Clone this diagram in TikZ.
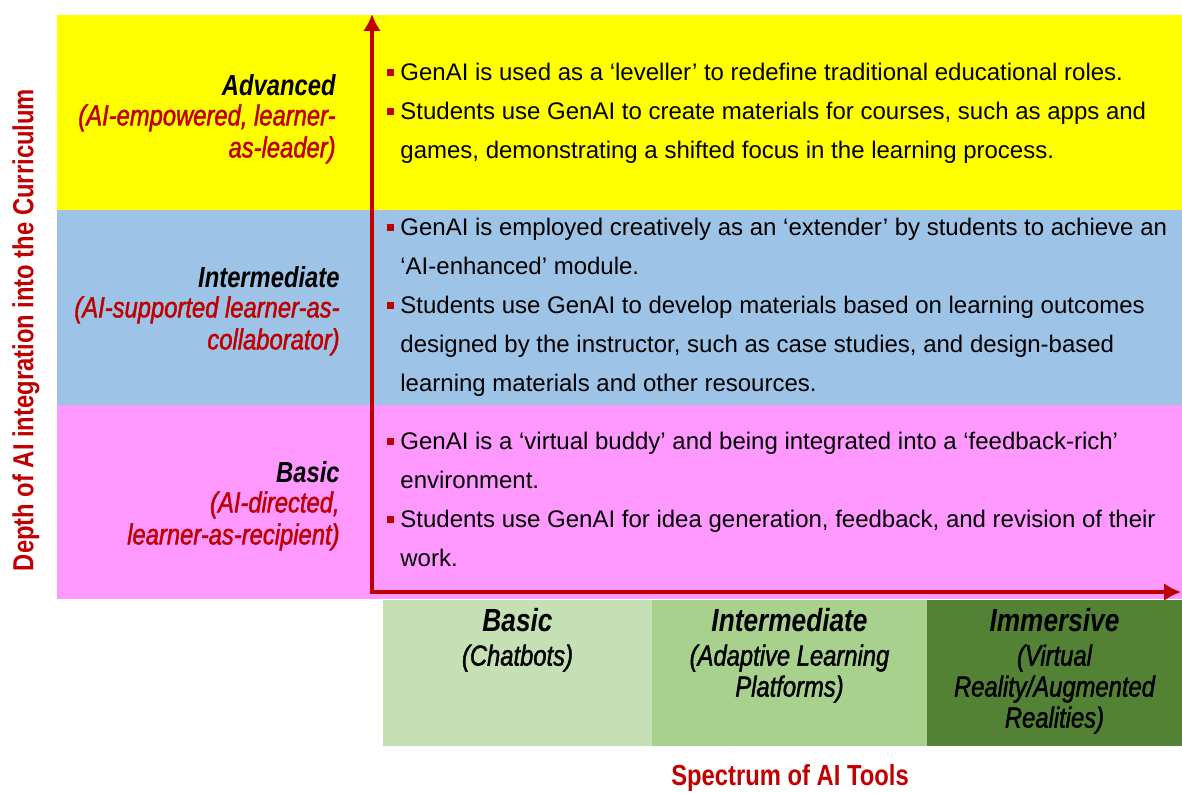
\documentclass[tikz,border=0pt]{standalone}
\usepackage{fontspec}
\setmainfont{Liberation Sans}
\newfontfamily\narrowfont[FakeStretch=0.82]{Liberation Sans}
\newfontfamily\narrowmed[FakeStretch=0.82,FakeBold=1.5]{Liberation Sans}
\usepackage{xcolor}
\usepackage{tikz}
\usetikzlibrary{arrows.meta}

\definecolor{advyellow}{HTML}{FFFF00}
\definecolor{intblue}{HTML}{9DC3E6}
\definecolor{baspink}{HTML}{FF99FF}
\definecolor{axisred}{HTML}{C00000}
\definecolor{toolA}{HTML}{C5E0B4}
\definecolor{toolB}{HTML}{A9D18E}
\definecolor{toolC}{HTML}{548235}

\newcommand{\bul}{\makebox[6.5pt][l]{\textcolor{axisred}{\rule[2.3pt]{3.5pt}{3.5pt}}}}
\newcommand{\ind}{\hspace*{6.5pt}}
\newcommand{\ttl}[1]{{\narrowfont\bfseries\itshape #1}}

\tikzset{
  lvl/.style={anchor=north east, align=right, inner sep=0pt, text=axisred,
    font=\narrowmed\itshape\fontsize{14.5}{16}\selectfont},
  bullets/.style={anchor=north west, align=left, inner sep=0pt,
    font=\fontsize{12}{19.5}\selectfont},
  toolbox/.style={anchor=north west, inner sep=0pt, outer sep=0pt, minimum height=73pt},
  tooltxt/.style={anchor=north, align=center, inner sep=0pt,
    font=\narrowmed\itshape\fontsize{14.5}{15.5}\selectfont},
  axislbl/.style={text=axisred, inner sep=0pt, font=\narrowfont\bfseries\fontsize{14.5}{16}\selectfont},
  axis/.style={draw=axisred, line width=2pt, line join=miter,
    {Latex[length=8.5pt,width=9pt]}-{Latex[length=8.5pt,width=9pt]}}
}

\begin{document}
\begin{tikzpicture}[x=0.5pt,y=-0.5pt]
\useasboundingbox (0,0) rectangle (1182,792);

% levels of integration
\fill[advyellow] (57,15) rectangle (1182,210);
\fill[intblue] (57,210) rectangle (1182,405);
\fill[baspink] (57,405) rectangle (1182,599);

\node[lvl] (advlbl) at (336,74) {\textcolor{black}{\ttl{Advanced}}\\[-1pt]
  (AI-empowered, learner-\\as-leader)};
\node[lvl] (intlbl) at (340,266) {\textcolor{black}{\ttl{Intermediate}}\\[-1pt]
  (AI-supported learner-as-\\collaborator)};
\node[lvl] (baslbl) at (340,461) {\textcolor{black}{\ttl{Basic}}\\[-1pt]
  (AI-directed,\\learner-as-recipient)};

\node[bullets] (advtxt) at (387,63) {\bul GenAI is used as a ‘leveller’ to redefine traditional educational roles.\\
  \bul Students use GenAI to create materials for courses, such as apps and\\
  \ind games, demonstrating a shifted focus in the learning process.};
\node[bullets] (inttxt) at (387,218) {\bul GenAI is employed creatively as an ‘extender’ by students to achieve an\\
  \ind ‘AI-enhanced’ module.\\
  \bul Students use GenAI to develop materials based on learning outcomes\\
  \ind designed by the instructor, such as case studies, and design-based\\
  \ind learning materials and other resources.};
\node[bullets] (bastxt) at (387,432) {\bul GenAI is a ‘virtual buddy’ and being integrated into a ‘feedback-rich’\\
  \ind environment.\\
  \bul Students use GenAI for idea generation, feedback, and revision of their\\
  \ind work.};

% spectrum of tools
\node[toolbox, fill=toolA, minimum width=134.5pt] (basicbox) at (383,600) {};
\node[toolbox, fill=toolB, minimum width=137.5pt] (adaptbox) at (652,600) {};
\node[toolbox, fill=toolC, minimum width=127.5pt] (immbox) at (927,600) {};

\node[tooltxt] (basictxt) at ([yshift=-4pt]basicbox.north) {\ttl{\fontsize{16}{17}\selectfont Basic}\\[1.5pt]
  (Chatbots)};
\node[tooltxt] (adapttxt) at ([yshift=-4pt]adaptbox.north) {\ttl{\fontsize{16}{17}\selectfont Intermediate}\\[1.5pt]
  (Adaptive Learning\\Platforms)};
\node[tooltxt] (immtxt) at ([yshift=-4pt]immbox.north) {\ttl{\fontsize{16}{17}\selectfont Immersive}\\[1.5pt]
  (Virtual\\Reality/Augmented\\Realities)};

% axes
\coordinate (origin) at (372,592);
\coordinate (ytip) at (372,14);
\coordinate (xtip) at (1181,592);
\draw[axis] (ytip) -- (origin) -- (xtip);

\node[axislbl, rotate=90] (ylbl) at (26,330) {Depth of AI integration into the Curriculum};
\node[axislbl] (xlbl) at (790,778) {Spectrum of AI Tools};

\end{tikzpicture}
\end{document}
